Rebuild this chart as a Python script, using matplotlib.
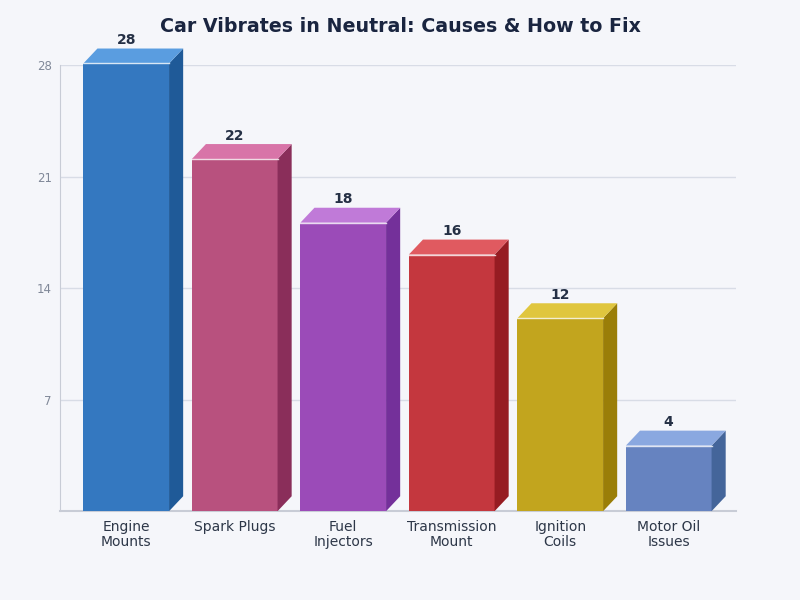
import matplotlib
matplotlib.use("Agg")
import matplotlib.pyplot as plt
from matplotlib.patches import Polygon

categories = ["Engine\nMounts", "Spark Plugs", "Fuel\nInjectors", "Transmission\nMount", "Ignition\nCoils", "Motor Oil\nIssues"]
values = [28, 22, 18, 16, 12, 4]
front_colors = ["#3478c0", "#b8517e", "#9b4bb8", "#c4373e", "#c2a51e", "#6683c0"]
top_colors = ["#5a9de0", "#d874a8", "#c07ad8", "#e05a60", "#e0c63e", "#8aa8e0"]
side_colors = ["#1f5a98", "#8a2e5a", "#74309a", "#961c22", "#9a7e08", "#44659a"]
yticks = [7, 14, 21, 28]

bg = "#f5f6fa"
fig = plt.figure(figsize=(8, 6), dpi=100, facecolor=bg)
ax = fig.add_axes([0.075, 0.148, 0.845, 0.743], facecolor=bg)

xmin, xmax = -0.61, 5.62
ax.set_xlim(xmin, xmax)
ax.set_ylim(0, 28)

w = 0.79
dx = 0.13
dy = 0.94
lift = 0.12

for i, (v, fc, tc, sc) in enumerate(zip(values, front_colors, top_colors, side_colors)):
    x0 = i - w / 2
    x1 = i + w / 2
    t = v + lift
    ax.add_patch(Polygon([(x0, 0), (x1, 0), (x1, t), (x0, t)], closed=True,
                         facecolor=fc, edgecolor="none", zorder=3, clip_on=False))
    ax.add_patch(Polygon([(x1, 0), (x1 + dx, dy), (x1 + dx, t + dy), (x1, t)], closed=True,
                         facecolor=sc, edgecolor="none", zorder=3, clip_on=False))
    ax.add_patch(Polygon([(x0, t), (x1, t), (x1 + dx, t + dy), (x0 + dx, t + dy)], closed=True,
                         facecolor=tc, edgecolor="none", zorder=3, clip_on=False))
    ax.plot([x0, x1], [t, t], color="white", lw=1.0, alpha=0.8, zorder=4, clip_on=False)
    ax.text(i, t + dy + 0.08, str(v), ha="center", va="bottom",
            fontsize=10, fontweight="bold", color="#253045", zorder=5)

ax.set_xticks(range(len(categories)))
ax.set_xticklabels(categories, fontsize=10, color="#2d3748", linespacing=1.1)
ax.set_yticks(yticks)
ax.set_yticklabels([str(t) for t in yticks], fontsize=8.5, color="#808898")
ax.tick_params(axis="both", length=0)
ax.tick_params(axis="x", pad=6)
ax.tick_params(axis="y", pad=6)

ax.grid(axis="y", color="#d8dce6", lw=1, zorder=0)
ax.set_axisbelow(True)
for s in ["top", "right"]:
    ax.spines[s].set_visible(False)
ax.spines["left"].set_color("#c8ccd6")
ax.spines["bottom"].set_color("#c8ccd6")
ax.spines["bottom"].set_linewidth(1.5)

fig.text(0.5, 0.955, "Car Vibrates in Neutral: Causes & How to Fix", ha="center", va="center",
         fontsize=13.7, fontweight="bold", color="#1a2540")

fig.savefig("out.png", dpi=100, facecolor=bg)
